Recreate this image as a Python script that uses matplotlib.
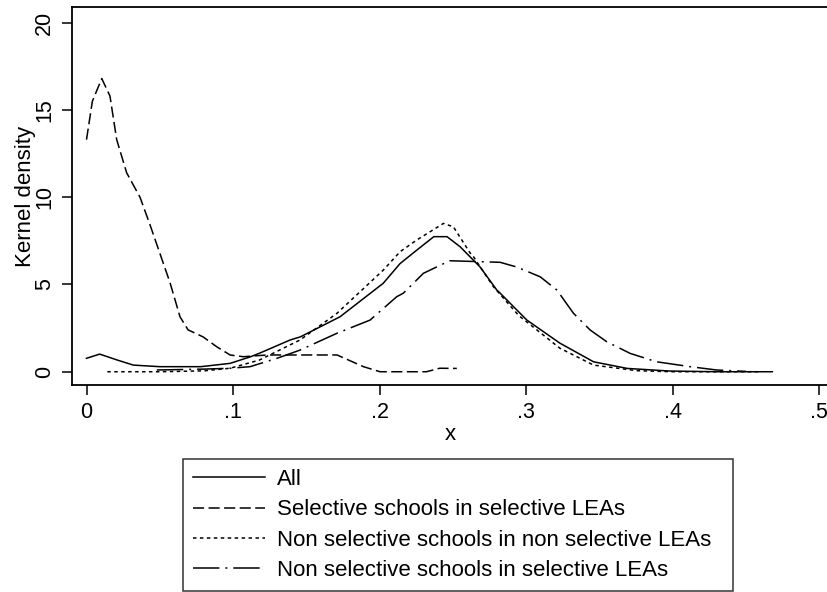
import matplotlib
matplotlib.use("Agg")
import matplotlib.pyplot as plt

plt.rcParams["font.family"] = ["Liberation Sans", "DejaVu Sans"]
plt.rcParams["lines.scale_dashes"] = False

# kernel density curves
all_x = [0.0, 0.009, 0.021, 0.032, 0.05, 0.078, 0.098, 0.112, 0.118, 0.139, 0.146,
         0.173, 0.2025, 0.214, 0.2254, 0.237, 0.246, 0.255, 0.2686, 0.28, 0.2823,
         0.3005, 0.323, 0.346, 0.369, 0.398, 0.43, 0.468]
all_y = [0.77, 1.01, 0.67, 0.38, 0.29, 0.29, 0.48, 0.86, 1.06, 1.82, 2.0,
         3.15, 5.07, 6.2, 6.97, 7.74, 7.74, 7.16, 6.0, 4.68, 4.5,
         2.96, 1.64, 0.57, 0.19, 0.04, 0.0, 0.0]

sel_x = [0.0, 0.004, 0.0104, 0.016, 0.0206, 0.0274, 0.0365, 0.043, 0.05, 0.057,
         0.0638, 0.0693, 0.0795, 0.0889, 0.098, 0.107, 0.123, 0.139, 0.171,
         0.189, 0.2003, 0.232, 0.241, 0.2527]
sel_y = [13.3, 15.5, 16.8, 15.8, 13.3, 11.4, 10.0, 8.5, 6.8, 5.1,
         3.15, 2.4, 2.0, 1.43, 0.96, 0.86, 0.96, 0.96, 0.96,
         0.29, 0.0, 0.0, 0.2, 0.19]

nsn_x = [0.0142, 0.05, 0.08, 0.098, 0.118, 0.1457, 0.1708, 0.2026, 0.214, 0.2254,
         0.2436, 0.2504, 0.2618, 0.264, 0.2777, 0.2936, 0.296, 0.323, 0.346,
         0.3756, 0.40, 0.46]
nsn_y = [0.0, 0.0, 0.05, 0.2, 0.67, 1.82, 3.34, 5.83, 6.88, 7.55,
         8.5, 8.3, 6.8, 6.6, 4.87, 3.35, 3.15, 1.35, 0.38,
         0.06, 0.0, 0.0]

nss_x = [0.048, 0.08, 0.098, 0.1116, 0.13, 0.1457, 0.1708, 0.1935, 0.2117, 0.2162,
         0.2299, 0.2413, 0.248, 0.2823, 0.2936, 0.3096, 0.321, 0.3323, 0.3437,
         0.355, 0.371, 0.389, 0.412, 0.43, 0.45]
nss_y = [0.1, 0.15, 0.2, 0.29, 0.77, 1.24, 2.2, 2.96, 4.3, 4.5,
         5.64, 6.1, 6.36, 6.27, 6.0, 5.44, 4.68, 3.35, 2.39,
         1.72, 1.05, 0.57, 0.29, 0.1, 0.02]

labels = ["All",
          "Selective schools in selective LEAs",
          "Non selective schools in non selective LEAs",
          "Non selective schools in selective LEAs"]

x_ticks = [0, 0.1, 0.2, 0.3, 0.4, 0.5]
x_ticklabels = ["0", ".1", ".2", ".3", ".4", ".5"]
y_ticks = [0, 5, 10, 15, 20]

fig = plt.figure(figsize=(8.28, 5.92), dpi=100)
ax = fig.add_axes([72 / 828, 1 - 385 / 592, 756 / 828, 378 / 592])

lw = 1.1
ax.plot(all_x, all_y, color="black", lw=lw, label=labels[0])
ax.plot(sel_x, sel_y, color="black", lw=lw, linestyle=(0, (8, 3.2)), label=labels[1])
ax.plot(nsn_x, nsn_y, color="black", lw=lw, linestyle=(0, (2.5, 2.5)), label=labels[2])
ax.plot(nss_x, nss_y, color="black", lw=lw, linestyle=(0, (19, 4.3, 1.4, 4.3)), label=labels[3])

ax.set_xlim(-0.0099, 0.506)
ax.set_ylim(-0.76, 20.9)
ax.set_xticks(x_ticks)
ax.set_xticklabels(x_ticklabels)
ax.set_yticks(y_ticks)
ax.set_yticklabels([str(v) for v in y_ticks], rotation=90, va="center")
ax.tick_params(axis="both", direction="out", length=7, width=1.1, labelsize=15.5, pad=5)
ax.spines["right"].set_visible(False)
for s in ["left", "top", "bottom"]:
    ax.spines[s].set_linewidth(1.3)

ax.set_xlabel("x", fontsize=16, labelpad=1)
ax.set_ylabel("Kernel density", fontsize=16, labelpad=-1)

leg = fig.legend(loc="lower left", bbox_to_anchor=(183 / 828, 1 / 592, 550 / 828, 0.2),
                 mode="expand", fontsize=16, handlelength=3.25, handletextpad=0.55,
                 labelspacing=0.42, borderpad=0.45, borderaxespad=0, fancybox=False,
                 frameon=True, edgecolor="black")
leg.get_frame().set_linewidth(1.1)

fig.savefig("out.png", dpi=100)
